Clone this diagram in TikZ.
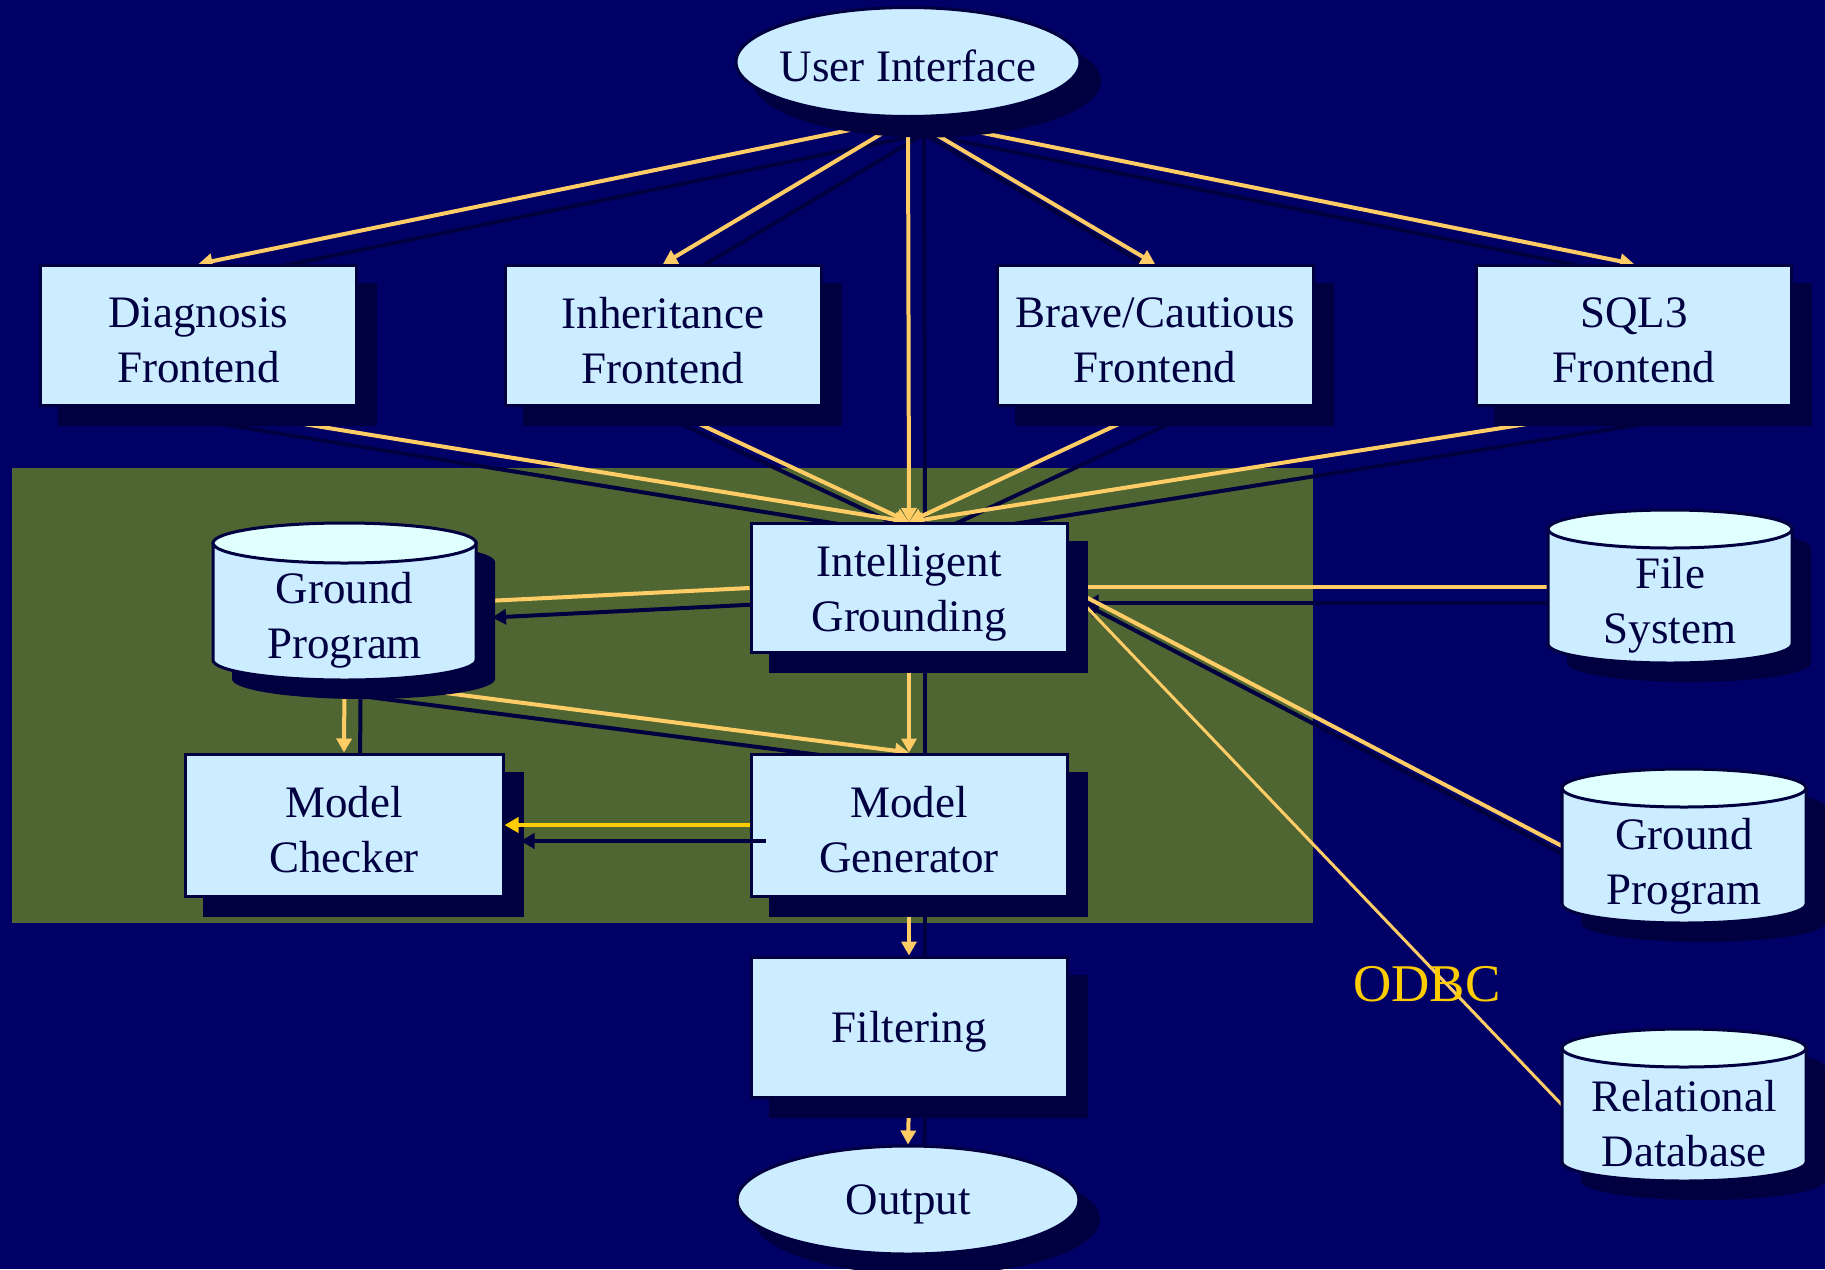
\documentclass[tikz,border=0pt]{standalone}
\usepackage{fontspec}
\setmainfont{Liberation Serif}
\usetikzlibrary{shapes.geometric,arrows.meta}
\definecolor{bgc}{HTML}{000066}
\definecolor{grn}{HTML}{4F6633}
\definecolor{shd}{HTML}{000040}
\definecolor{boxc}{HTML}{CCECFF}
\definecolor{topc}{HTML}{E0FFFF}
\definecolor{ylw}{HTML}{FFCC66}
\definecolor{ylwb}{HTML}{FFCC00}
\definecolor{txtc}{HTML}{000040}
\pgfdeclarelayer{bgl}\pgfdeclarelayer{lsh}\pgfdeclarelayer{lin}\pgfdeclarelayer{nsh}\pgfdeclarelayer{toplay}
\pgfsetlayers{bgl,lsh,lin,nsh,main,toplay}
\newcommand{\conn}[1]{%
  \begin{pgfonlayer}{lsh}\draw[lshad] #1;\end{pgfonlayer}%
  \begin{pgfonlayer}{lin}\draw[yline] #1;\end{pgfonlayer}}
\newcommand{\boxshadow}[1]{%
  \begin{pgfonlayer}{nsh}\fill[shd] ([shift={(19,-19)}]#1.south west) rectangle ([shift={(19,-19)}]#1.north east);\end{pgfonlayer}}
% box: name, cx, cy, w, h, text
\newcommand{\bx}[6]{%
  \node[boxs, minimum width=#4, minimum height=#5] (#1) at (#2,{-#3}) {};
  \node[txt] (#1-t) at (#2,{-#3-5}) {#6};
  \boxshadow{#1}}
% ellipse: name, cx, cy, w, h, text
\newcommand{\el}[6]{%
  \node[ells, minimum width=#4, minimum height=#5] (#1) at (#2,{-#3}) {};
  \node[txt] (#1-t) at (#2,{-#3-4}) {#6};
  \begin{pgfonlayer}{nsh}\fill[shd] ([shift={(19,-19)}]#1.center) ellipse[x radius={#4/2+2}, y radius={#5/2+2}];\end{pgfonlayer}}
\newcommand{\cyl}[8]{%
  \pgfmathsetmacro{\cylcx}{(#2+#3)/2}%
  \pgfmathsetmacro{\cylrx}{(#3-#2)/2}%
  \pgfmathsetmacro{\cylya}{-(#4+#6)}%
  \pgfmathsetmacro{\cylyb}{-(#5-#6)}%
  \pgfmathsetmacro{\cylcy}{-(#4+#5)/2}%
  \pgfmathsetmacro{\cylty}{-(#4+#5)/2-#7}%
  \pgfmathsetmacro{\cylw}{#3-#2}%
  \pgfmathsetmacro{\cylh}{#5-#4}%
  \begin{pgfonlayer}{nsh}
    \fill[shd,shift={(19,-19)}] (#2,\cylya) -- (#2,\cylyb) arc[start angle=180,end angle=360,x radius=\cylrx,y radius=#6] -- (#3,\cylya) arc[start angle=0,end angle=180,x radius=\cylrx,y radius=#6] -- cycle;
  \end{pgfonlayer}
  \filldraw[cylb] (#2,\cylya) -- (#2,\cylyb) arc[start angle=180,end angle=360,x radius=\cylrx,y radius=#6] -- (#3,\cylya) -- cycle;
  \filldraw[cylt] (\cylcx,\cylya) ellipse[x radius=\cylrx,y radius=#6];
  \node[cylbox,minimum width=\cylw,minimum height=\cylh] (#1) at (\cylcx,\cylcy) {};
  \node[txt] (#1-t) at (\cylcx,\cylty) {#8};
}
\begin{document}
\begin{tikzpicture}[x=1pt,y=1pt,
  mainfont/.style={font=\fontsize{45}{55}\selectfont},
  boxs/.style={draw=shd, line width=3pt, fill=boxc, inner sep=0pt},
  ells/.style={ellipse, draw=shd, line width=3pt, fill=boxc, inner sep=0pt},
  txt/.style={text=txtc, align=center, mainfont, inner sep=0pt},
  yline/.style={draw=ylw, line width=4pt, -{Triangle[length=14pt,width=15pt]}},
  lshad/.style={draw=shd, line width=4pt, -{Triangle[length=14pt,width=15pt]}, transform canvas={shift={(16pt,-16pt)}}},
  cylb/.style={draw=shd, line width=3pt, fill=boxc},
  cylt/.style={draw=shd, line width=3pt, fill=topc},
  cylbox/.style={inner sep=0pt, outer sep=0pt}]
\useasboundingbox (0,0) rectangle (1825,-1269);
\begin{pgfonlayer}{bgl}
  \fill[bgc] (0,0) rectangle (1825,-1269);
  \fill[grn] (12,-468) rectangle (1313,-923);
\end{pgfonlayer}

% nodes
\el{ui}{908}{62}{344}{109}{User Interface}

\bx{diag}{198.5}{335.5}{316}{140}{Diagnosis\\Frontend}
\bx{inh}{663}{335.5}{316}{140}{Inheritance\\Frontend}
\bx{brave}{1155}{335.5}{316}{140}{Brave/Cautious\\Frontend}
\bx{sql}{1634}{335.5}{315}{140}{SQL3\\Frontend}

\bx{ig}{909}{588}{316}{129}{Intelligent\\Grounding}
\bx{mc}{344}{825}{318}{142}{Model\\Checker}
\bx{mg}{909}{825}{316}{142}{Model\\Generator}
\bx{filt}{909}{1027}{316}{140}{Filtering}

\el{out}{908}{1200}{342}{108}{Output}

\cyl{gp}{213}{476}{523}{680}{20}{19}{Ground\\Program}
\cyl{fs}{1548}{1792}{510}{663}{19}{19}{File\\System}
\cyl{gpb}{1562}{1806}{769}{923}{19}{20}{Ground\\Program}
\cyl{rdb}{1562}{1806}{1029}{1181}{19}{19}{Relational\\Database}

% connectors
\conn{(ui.south) -- (diag.north)}
\conn{(ui.south) -- (inh.north)}
\conn{(ui.south) -- (brave.north)}
\conn{(ui.south) -- (sql.north)}
\conn{(ui.south) -- (ig.north)}
\conn{(diag.south) -- (ig.north)}
\conn{(inh.south) -- (ig.north)}
\conn{(brave.south) -- (ig.north)}
\conn{(sql.south) -- (ig.north)}
\conn{(ig.west) -- (gp.east)}
\conn{(gp.south) -- (mc.north)}
\conn{(gp.south) -- (mg.north)}
\conn{(ig.south) -- (mg.north)}
\conn{(mg.south) -- (filt.north)}
\conn{(filt.south) -- (out.north)}
\conn{(fs.west) -- (fs.west -| ig.east)}
\conn{(gpb.west) -- (ig.east)}
\begin{pgfonlayer}{lin}
  \draw[yline, line width=3pt] (rdb.west) -- (ig.east);
\end{pgfonlayer}
\begin{pgfonlayer}{toplay}
  \draw[lshad] (mg.west) -- (mc.east);
  \draw[yline, draw=ylwb] (mg.west) -- (mc.east);
  \node[text=ylwb, font=\fontsize{53}{60}\selectfont, inner sep=0pt] (odbc) at (1427,-984) {ODBC};
\end{pgfonlayer}
\end{tikzpicture}
\end{document}
